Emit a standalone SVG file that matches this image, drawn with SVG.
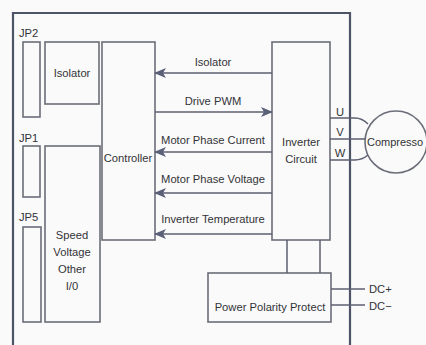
<svg xmlns="http://www.w3.org/2000/svg" width="426" height="345" viewBox="0 0 426 345">
<style>
.box{fill:none;stroke:#6b6e78;stroke-width:1.6}
.frame{fill:none;stroke:#4e5468;stroke-width:2.2}
.ln{fill:none;stroke:#5c6070;stroke-width:1.5}
text{font-family:"Liberation Sans",Arial,sans-serif;font-size:11.2px;fill:#333337}
.c{text-anchor:middle}
</style>
<defs>
<marker id="ah" markerWidth="12" markerHeight="10" refX="11" refY="5" orient="auto" markerUnits="userSpaceOnUse">
<path d="M0,0 L12,5 L0,10 L3,5 Z" fill="#5a6078"/>
</marker>
</defs>
<rect width="426" height="345" fill="#fafafa"/>
<g id="frame"><path class="frame" d="M13,347 V13 H350 V347"/></g>
<g id="jp2"><text x="19" y="37">JP2</text><rect class="box" x="23" y="42" width="17" height="75"/></g>
<g id="jp1"><text x="19" y="142">JP1</text><rect class="box" x="23" y="146" width="17" height="51"/></g>
<g id="jp5"><text x="19" y="221">JP5</text><rect class="box" x="23" y="227" width="18" height="95"/></g>
<g id="isolator"><rect class="box" x="45" y="42" width="54" height="62"/><text class="c" x="72" y="77">Isolator</text></g>
<g id="speed"><rect class="box" x="45" y="146" width="55" height="176"/>
<text class="c" x="72" y="239">Speed</text><text class="c" x="72" y="256">Voltage</text><text class="c" x="72" y="273">Other</text><text class="c" x="72" y="290">I/0</text></g>
<g id="controller"><rect class="box" x="102" y="42" width="53" height="198"/><text class="c" x="128" y="162">Controller</text></g>
<g id="inverter"><rect class="box" x="272" y="42" width="58" height="198"/><text class="c" x="301" y="146">Inverter</text><text class="c" x="301" y="163">Circuit</text></g>
<g id="ppp"><rect class="box" x="208" y="273" width="123" height="49"/><text class="c" x="270" y="311">Power Polarity Protect</text></g>
<g id="compressor"><circle class="box" cx="396" cy="142" r="31"/><text x="367" y="146" style="font-size:11px">Compresso</text></g>
<g id="connectors">
<line class="ln" x1="272" y1="73" x2="155" y2="73" marker-end="url(#ah)"/>
<line class="ln" x1="155" y1="112" x2="272" y2="112" marker-end="url(#ah)"/>
<line class="ln" x1="272" y1="152" x2="155" y2="152" marker-end="url(#ah)"/>
<line class="ln" x1="272" y1="193" x2="155" y2="193" marker-end="url(#ah)"/>
<line class="ln" x1="272" y1="234" x2="155" y2="234" marker-end="url(#ah)"/>
<line class="ln" x1="287" y1="240" x2="287" y2="273"/>
<line class="ln" x1="320" y1="240" x2="320" y2="273"/>
<path class="ln" d="M330,118 H355 Q362,118 368,124"/>
<path class="ln" d="M330,139 H365"/>
<path class="ln" d="M330,160 H355 Q362,160 368,155"/>
<line class="ln" x1="331" y1="289" x2="365" y2="289"/>
<line class="ln" x1="331" y1="305" x2="365" y2="305"/>
</g>
<g id="labels">
<text class="c" x="213" y="66">Isolator</text>
<text class="c" x="213" y="105">Drive PWM</text>
<text class="c" x="213" y="144">Motor Phase Current</text>
<text class="c" x="213" y="183">Motor Phase Voltage</text>
<text class="c" x="213" y="223">Inverter Temperature</text>
<text class="c" x="340" y="116">U</text>
<text class="c" x="340" y="136">V</text>
<text class="c" x="340" y="157">W</text>
<text x="369" y="293">DC+</text>
<text x="369" y="310">DC−</text>
</g>
</svg>
